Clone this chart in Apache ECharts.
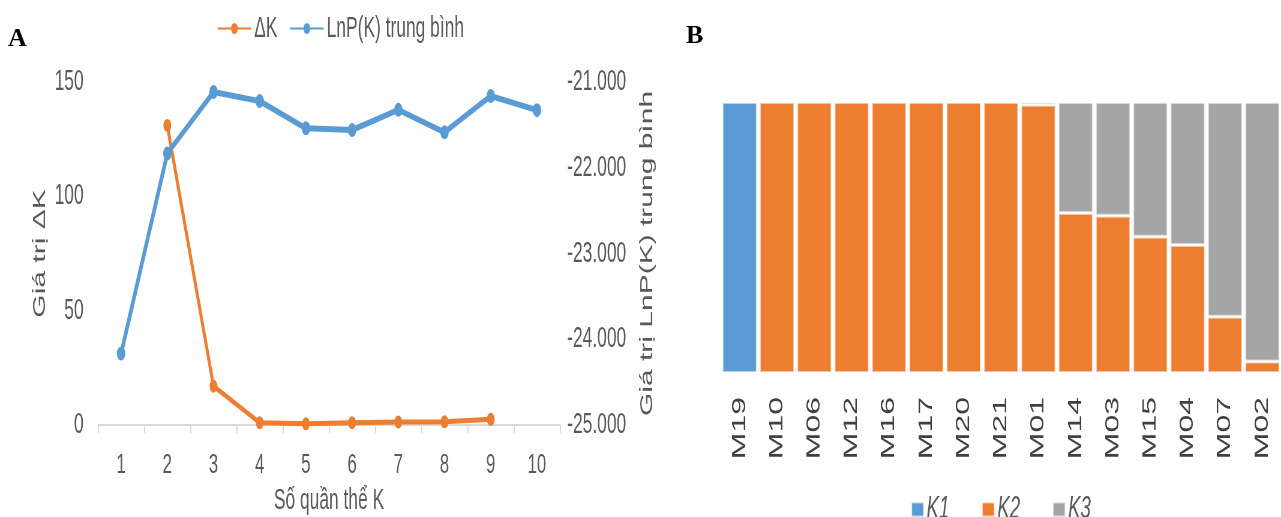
<!DOCTYPE html>
<html><head><meta charset="utf-8">
<script src="https://cdn.jsdelivr.net/npm/echarts@6/dist/echarts.min.js"></script>
<style>
html,body{margin:0;padding:0;background:#fff;overflow:hidden;width:1281px;height:517px}
#c{width:2135px;height:517px;transform:scaleX(0.6);transform-origin:0 0}
</style>
</head><body><div id="c"></div>
<script>
const kCategories = ['1','2','3','4','5','6','7','8','9','10'];
const deltaK = [null, 131, 17, 1, 0.5, 1, 1.3, 1.4, 2.5, null];
const lnPK = [-24167, -21833, -21117, -21223, -21540, -21560, -21325, -21587, -21164, -21328];
const samples = ['M19','M10','M06','M12','M16','M17','M20','M21','M01','M14','M03','M15','M04','M07','M02'];
const k1 = [1, 0, 0, 0, 0, 0, 0, 0, 0, 0, 0, 0, 0, 0, 0];
const k2 = [0, 1, 1, 1, 1, 1, 1, 1, 0.99, 0.59, 0.58, 0.503, 0.472, 0.208, 0.042];
const k3 = [0, 0, 0, 0, 0, 0, 0, 0, 0.01, 0.41, 0.42, 0.497, 0.528, 0.792, 0.958];
const leftTicks = [0, 50, 100, 150];
const rightTicks = [-25000, -24000, -23000, -22000, -21000];

const S = 0.6;            // horizontal squeeze of the original figure
const X = v => v / S;     // page px -> unscaled px
const FONT = "'Liberation Sans', Arial, sans-serif";
const GREY = '#595959';
const fmtRight = v => (v < 0 ? '-' : '') + String(Math.floor(Math.abs(v) / 1000)) + '.' + String(Math.abs(v) % 1000).padStart(3, '0');

const chart = echarts.init(document.getElementById('c'));
chart.setOption({
  animation: false,
  textStyle: { fontFamily: FONT },
  graphic: [
    { type: 'text', x: X(8), y: 26, scaleX: 1 / S, style: { text: 'A', font: "bold 26px 'Liberation Serif', serif", fill: '#000' } },
    { type: 'text', x: X(686), y: 23, scaleX: 1 / S, style: { text: 'B', font: "bold 26px 'Liberation Serif', serif", fill: '#000' } }
  ],
  legend: [
    { left: X(214), top: 9, itemGap: 20, itemWidth: 56, itemHeight: 14,
      textStyle: { fontSize: 29, color: GREY, fontFamily: FONT },
      data: ['ΔK', 'LnP(K) trung bình'] },
    { left: X(908), top: 489, itemGap: 54, itemWidth: 20, itemHeight: 14, icon: 'rect',
      textStyle: { fontSize: 31, color: GREY, fontStyle: 'italic', fontFamily: FONT },
      data: ['K1', 'K2', 'K3'] }
  ],
  grid: [
    { left: X(98), right: 2135 - X(560), top: 82, bottom: 92, outerBoundsMode: 'none', containLabel: false },
    { left: X(721), right: 0, top: 102, bottom: 144, outerBoundsMode: 'none', containLabel: false }
  ],
  xAxis: [
    { type: 'category', gridIndex: 0, data: kCategories, boundaryGap: true,
      name: 'Số quần thể K', nameLocation: 'middle', nameGap: 61, nameMoveOverlap: false,
      nameTextStyle: { fontSize: 29, color: GREY, fontFamily: FONT },
      axisLine: { lineStyle: { color: '#D9D9D9', width: 2 } },
      axisTick: { show: true, length: 8, lineStyle: { color: '#D9D9D9', width: 2 } },
      axisLabel: { fontSize: 28, color: GREY, margin: 26, fontFamily: FONT } },
    { type: 'category', gridIndex: 1, data: samples,
      axisLine: { show: false }, axisTick: { show: false },
      axisLabel: { rotate: 90, fontSize: 32, color: '#404040', margin: 24, interval: 0, fontFamily: FONT, hideOverlap: false } }
  ],
  yAxis: [
    { type: 'value', gridIndex: 0, min: leftTicks[0], max: leftTicks[leftTicks.length - 1], interval: 50,
      name: 'Giá trị ΔK', nameLocation: 'middle', nameGap: 82, nameRotate: 90, nameMoveOverlap: false,
      nameTextStyle: { fontSize: 30, color: GREY, fontFamily: FONT },
      axisLine: { show: false }, axisTick: { show: false }, splitLine: { show: false },
      axisLabel: { fontSize: 29, color: GREY, margin: 24, fontFamily: FONT } },
    { type: 'value', gridIndex: 0, position: 'right', min: rightTicks[0], max: rightTicks[rightTicks.length - 1], interval: 1000,
      name: 'Giá trị LnP(K) trung bình', nameLocation: 'middle', nameGap: 130, nameRotate: 90, nameMoveOverlap: false,
      nameTextStyle: { fontSize: 30, color: GREY, fontFamily: FONT },
      axisLine: { show: false }, axisTick: { show: false }, splitLine: { show: false },
      axisLabel: { fontSize: 29, color: GREY, margin: 12, formatter: fmtRight, fontFamily: FONT } },
    { type: 'value', gridIndex: 1, min: 0, max: 1, show: false }
  ],
  series: [
    { name: 'ΔK', type: 'line', xAxisIndex: 0, yAxisIndex: 0, data: deltaK,
      symbol: 'circle', symbolSize: 13, connectNulls: false,
      lineStyle: { color: '#ED7D31', width: 5 }, itemStyle: { color: '#ED7D31' } },
    { name: 'LnP(K) trung bình', type: 'line', xAxisIndex: 0, yAxisIndex: 1, data: lnPK,
      symbol: 'circle', symbolSize: 14,
      lineStyle: { color: '#5B9BD5', width: 6 }, itemStyle: { color: '#5B9BD5' } },
    { name: 'K1', type: 'bar', stack: 'q', xAxisIndex: 1, yAxisIndex: 2, data: k1, barCategoryGap: '7%',
      itemStyle: { color: '#5B9BD5', borderColor: 'rgba(255,255,255,0.55)', borderWidth: 2 } },
    { name: 'K2', type: 'bar', stack: 'q', xAxisIndex: 1, yAxisIndex: 2, data: k2, barCategoryGap: '7%',
      itemStyle: { color: '#ED7D31', borderColor: 'rgba(255,255,255,0.55)', borderWidth: 2 } },
    { name: 'K3', type: 'bar', stack: 'q', xAxisIndex: 1, yAxisIndex: 2, data: k3, barCategoryGap: '7%',
      itemStyle: { color: '#A5A5A5', borderColor: 'rgba(255,255,255,0.55)', borderWidth: 2 } }
  ]
});
</script></body></html>
